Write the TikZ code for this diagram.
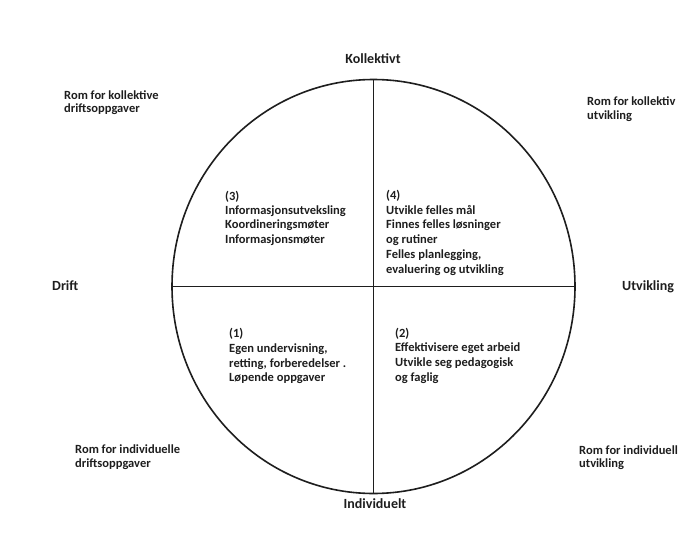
\documentclass[tikz,border=0pt]{standalone}
\usepackage{fontspec}
\setmainfont{Carlito}
\definecolor{ink}{HTML}{1E1E1E}
\tikzset{
  lbl/.style={anchor=base west, inner sep=0pt, text=ink, font=\bfseries\fontsize{12.5}{14}\selectfont},
  head/.style={anchor=base, inner sep=0pt, text=ink, font=\bfseries\fontsize{14}{16}\selectfont},
  axis/.style={draw=ink, line width=1pt},
  rim/.style={draw=ink, line width=1.6pt}
}
\begin{document}
\begin{tikzpicture}[x=1pt,y=-1pt]
  \fill[white] (0,0) rectangle (697,557);
  \useasboundingbox (0,0) rectangle (697,557);

  % circle and quadrant axes
  \coordinate (c) at (373.5,286.5);
  \draw[rim] (c) ellipse [x radius=201.5pt, y radius=207pt];
  \coordinate (top) at (373.5,79.5);
  \coordinate (bot) at (373.5,493.5);
  \coordinate (lft) at (172,286.5);
  \coordinate (rgt) at (575,286.5);
  \draw[axis] (top) -- (bot);
  \draw[axis] (lft) -- (rgt);

  % axis headings
  \node[head] (kollektivt) at (373,63) {Kollektivt};
  \node[head] (individuelt) at (375,508) {Individuelt};
  \node[head, anchor=base west] (drift) at (52,290) {Drift};
  \node[head, anchor=base west] (utvikling) at (622,290) {Utvikling};

  % corner notes
  \node[lbl] (ko1) at (64,99) {Rom for kollektive};
  \node[lbl] (ko2) at (64,112) {driftsoppgaver};
  \node[lbl] (ku1) at (587,105) {Rom for kollektiv};
  \node[lbl] (ku2) at (587,119) {utvikling};
  \node[lbl] (id1) at (75,453) {Rom for individuelle};
  \node[lbl] (id2) at (75,467) {driftsoppgaver};
  \node[lbl] (iu1) at (579,454) {Rom for individuell};
  \node[lbl] (iu2) at (579,467) {utvikling};

  % quadrant (3)
  \node[lbl] (q3a) at (225,200) {(3)};
  \node[lbl] (q3b) at (225,214) {Informasjonsutveksling};
  \node[lbl] (q3c) at (225,228) {Koordineringsmøter};
  \node[lbl] (q3d) at (225,243) {Informasjonsmøter};

  % quadrant (4)
  \node[lbl] (q4a) at (386,199) {(4)};
  \node[lbl] (q4b) at (386,214) {Utvikle felles mål};
  \node[lbl] (q4c) at (386,228) {Finnes felles løsninger};
  \node[lbl] (q4d) at (386,243) {og rutiner};
  \node[lbl] (q4e) at (386,258) {Felles planlegging,};
  \node[lbl] (q4f) at (386,273) {evaluering og utvikling};

  % quadrant (1)
  \node[lbl] (q1a) at (229,337) {(1)};
  \node[lbl] (q1b) at (229,352) {Egen undervisning,};
  \node[lbl] (q1c) at (229,367) {retting, forberedelser .};
  \node[lbl] (q1d) at (229,381) {Løpende oppgaver};

  % quadrant (2)
  \node[lbl] (q2a) at (395,337) {(2)};
  \node[lbl] (q2b) at (395,351) {Effektivisere eget arbeid};
  \node[lbl] (q2c) at (395,366) {Utvikle seg pedagogisk};
  \node[lbl] (q2d) at (395,381) {og faglig};
\end{tikzpicture}
\end{document}
